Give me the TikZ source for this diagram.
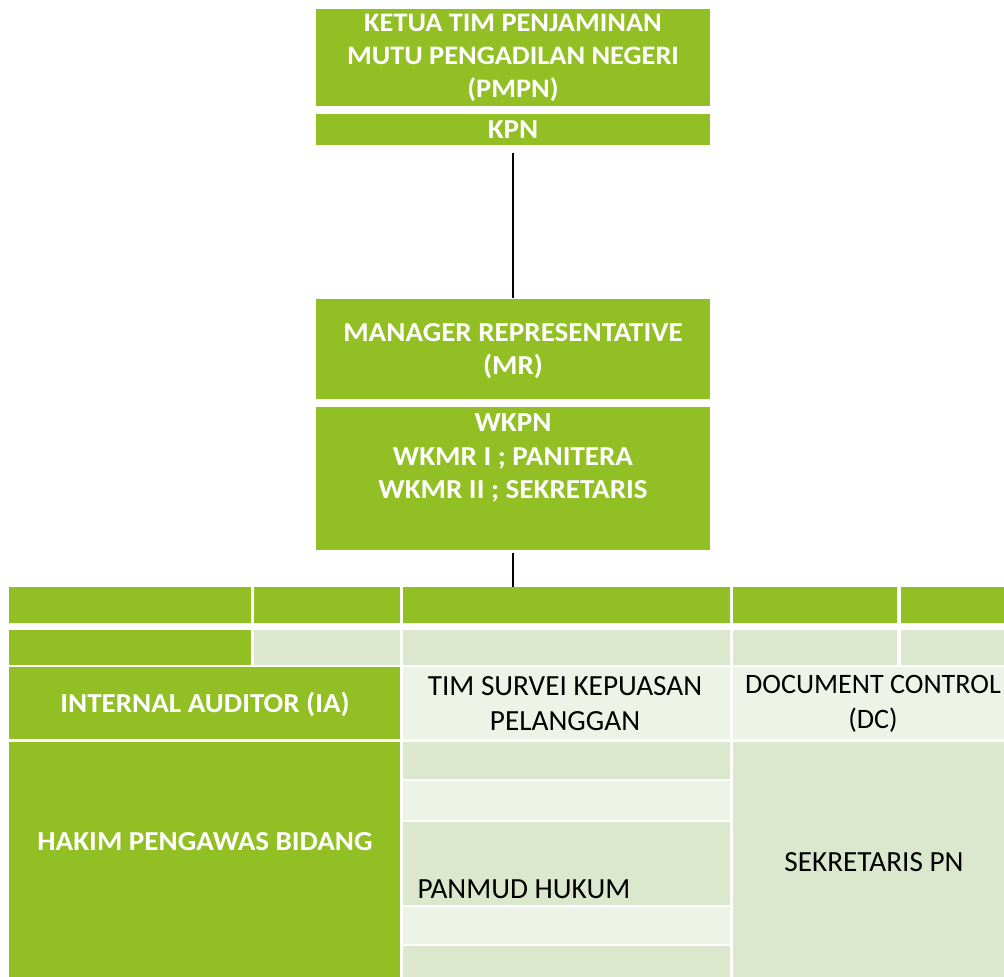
\documentclass[tikz,border=0pt]{standalone}
\usepackage{fontspec}
\setmainfont{Carlito}
\newfontfamily\pmwide[FakeStretch=1.06]{Carlito}
\definecolor{pmgreen}{HTML}{92C024}
\definecolor{pmlight}{HTML}{DCE8CE}
\definecolor{pmpale}{HTML}{EEF3E8}
\begin{document}
\begin{tikzpicture}[x=0.025cm, y=-0.025cm, thick,
        main box/.style={rectangle, fill=pmgreen, inner sep=0pt, minimum width=9.85cm},
        white text/.style={text=white, align=center, font=\pmwide\bfseries\fontsize{19.5}{23.5}\selectfont},
        dark text/.style={text=black, align=center, font=\fontsize{20.8}{25}\selectfont}]
    \useasboundingbox (0, 0) rectangle (1004, 977);

    % top boxes
    \node[main box, minimum height=2.425cm] at (513, 57.5) (ketua) {};
    \node[white text, font=\pmwide\bfseries\fontsize{19}{23.5}\selectfont] at (513, 58) (ketua text) {KETUA TIM PENJAMINAN\\MUTU PENGADILAN NEGERI\\(PMPN)};
    \node[main box, minimum height=0.775cm] at (513, 129.5) (kpn) {};
    \node[white text] at (513, 129.5) (kpn text) {KPN};
    \node[main box, minimum height=2.5cm] at (513, 349) (mr) {};
    \node[white text] at (513, 351) (mr text) {MANAGER REPRESENTATIVE\\(MR)};
    \node[main box, minimum height=3.575cm] at (513, 478.5) (wkpn) {};
    \node[white text] at (513, 458) (wkpn text) {WKPN\\WKMR I ; PANITERA\\WKMR II ; SEKRETARIS};
    \coordinate (table) at (513, 587);

    % table
    \fill[pmgreen] (9, 587) rectangle (251, 623) (254, 587) rectangle (400, 623)
        (403, 587) rectangle (730, 623) (733, 587) rectangle (897, 623)
        (901, 587) rectangle (1004, 623);
    \fill[pmgreen] (9, 630) rectangle (251, 665);
    \fill[pmlight] (254, 630) rectangle (400, 665) (403, 630) rectangle (730, 665)
        (733, 630) rectangle (897, 665) (901, 630) rectangle (1004, 665);
    \fill[pmgreen] (9, 667) rectangle (400, 739);
    \fill[pmpale] (403, 667) rectangle (730, 739) (733, 667) rectangle (1004, 739);
    \fill[pmgreen] (9, 742) rectangle (400, 977);
    \fill[pmlight] (403, 742) rectangle (730, 779) (403, 822) rectangle (730, 905)
        (403, 946) rectangle (730, 977) (733, 742) rectangle (1004, 977);
    \fill[pmpale] (403, 781) rectangle (730, 820) (403, 907) rectangle (730, 944);

    \node[white text] at (205, 704) (ia) {INTERNAL AUDITOR (IA)};
    \node[dark text] at (565, 703.5) (survei) {TIM SURVEI KEPUASAN\\PELANGGAN};
    \node[dark text, font=\fontsize{20}{25}\selectfont] at (873, 703.5) (dc) {DOCUMENT CONTROL\\(DC)};
    \node[white text] at (205, 842) (hakim) {HAKIM PENGAWAS BIDANG};
    \node[dark text, anchor=west, inner sep=0pt] at (417, 889) (panmud) {PANMUD HUKUM};
    \node[dark text] at (874, 862) (sekretaris) {SEKRETARIS PN};

    \path[line width=1pt]
        (kpn) edge[shorten <=5pt] (mr)
        (wkpn) edge[shorten <=2pt] (table)
        ;
\end{tikzpicture}
\end{document}
